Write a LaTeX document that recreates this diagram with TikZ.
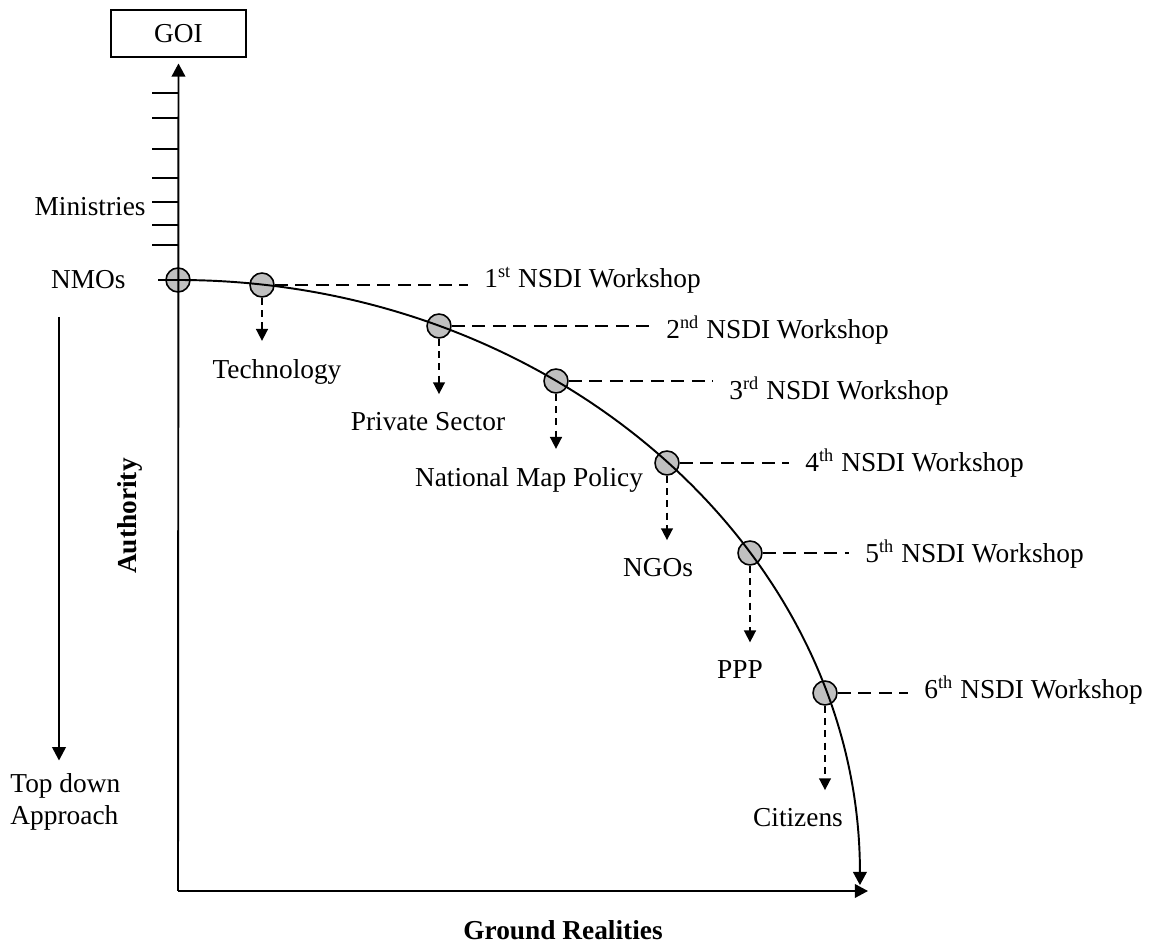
\documentclass[tikz,border=0pt]{standalone}
\usepackage{fontspec}
\setmainfont{Liberation Serif}
\usetikzlibrary{arrows.meta}
\definecolor{dotgray}{HTML}{C0C0C0}

\begin{document}
\begin{tikzpicture}[x=0.4386pt,y=-0.4386pt,
      font=\fontsize{12}{14}\selectfont,
      axis/.style={line width=0.85pt},
      tip/.style={-{Triangle[width=6pt,length=5.8pt]}},
      dot/.style={circle,draw,fill=dotgray,line width=0.7pt,minimum size=10.5pt,inner sep=0pt},
      lead/.style={line width=0.75pt,dash pattern=on 5.6pt off 3.4pt},
      drop/.style={line width=0.75pt,dash pattern=on 3pt off 2.4pt,-{Triangle[width=5.2pt,length=5.2pt]}},
      lbl/.style={inner sep=0pt},
      wlbl/.style={anchor=west,inner xsep=7pt,inner ysep=0pt}]
    % pixel grid of the page, y counted downwards
    \useasboundingbox (0,0) rectangle (1169,943);

    % box on top of the authority axis
    \node[draw,line width=0.5pt,minimum width=59.2pt,minimum height=20.6pt,inner sep=0pt] (goi) at (178.5,33.5) {GOI};

    % ticks on the authority axis
    \foreach \y in {93,118,149,178,202,225,245} {
      \draw[axis] (152,\y) -- (178,\y);
    }
    \node[lbl,anchor=east] (min) at (146,207) {Ministries};
    \node[lbl,anchor=east] (nmo) at (126,280) {NMOs};

    % milestones on the curve
    \foreach \i/\x/\y in {0/178/280,1/262/285,2/439/326,3/556/381,4/667/463,5/750/553,6/825/693} {
      \node[dot] (d\i) at (\x,\y) {};
    }
    \draw[axis] (158,280) -- (d0.center);

    % axes
    \coordinate (o) at (178,891);
    \coordinate (xend) at (868,891);
    \draw[axis,tip] (o) -- ([yshift=-2.6pt]goi.south);
    \draw[axis,tip] (o) -- (xend);
    \node[rotate=90,font=\fontsize{12}{14}\selectfont\bfseries] (auth) at (130,516) {Authority};
    \node[font=\fontsize{12}{14}\selectfont\bfseries] (gr) at (563,930) {Ground Realities};

    % top down arrow
    \node[lbl,anchor=north west,align=left] (td) at (10,773) {Top down\\Approach};
    \coordinate (tds) at (59,317);
    \draw[line width=0.6pt,tip] (tds) -- ([yshift=5.5pt]td.north -| tds);

    % the curve
    \draw[axis,tip] (d0.center) arc[start angle=90,end angle=0,x radius=299.1pt,y radius=265.4pt];

    % workshops to the right
    \node[wlbl] (w1) at (468,280) {1\textsuperscript{st} NSDI Workshop};
    \node[wlbl] (w2) at (650,330) {2\textsuperscript{nd} NSDI Workshop};
    \node[wlbl] (w3) at (713,391) {3\textsuperscript{rd} NSDI Workshop};
    \node[wlbl] (w4) at (789,463) {4\textsuperscript{th} NSDI Workshop};
    \node[wlbl] (w5) at (849,554) {5\textsuperscript{th} NSDI Workshop};
    \node[wlbl] (w6) at (908,690) {6\textsuperscript{th} NSDI Workshop};
    \foreach \i in {1,...,6} {
      \draw[lead] (d\i.east) -- (d\i.east -| w\i.west);
    }

    % what came in at each step
    \node[lbl] (tech) at (277,372) {Technology};
    \node[lbl] (priv) at (428,422) {Private Sector};
    \node[lbl] (nmp) at (529,480) {National Map Policy};
    \node[lbl] (ngo) at (658,568) {NGOs};
    \node[lbl] (ppp) at (740,670) {PPP};
    \node[lbl] (cit) at (798,818) {Citizens};
    \foreach \i/\l in {1/tech,2/priv,3/nmp,4/ngo,5/ppp,6/cit} {
      \draw[drop] (d\i.south) -- ([yshift=8pt]\l.north -| d\i);
    }
  \end{tikzpicture}
\end{document}
